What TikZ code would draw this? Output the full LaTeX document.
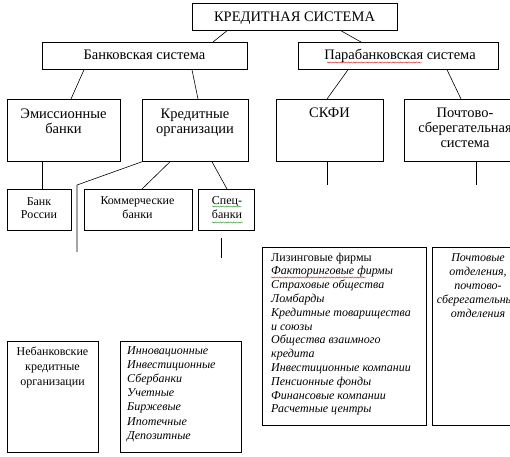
\documentclass[tikz,border=0pt]{standalone}
\usepackage{fontspec}
\setmainfont{Liberation Serif}
\usetikzlibrary{calc,decorations.pathmorphing}
\definecolor{spellred}{RGB}{220,40,40}
\definecolor{spellgreen}{RGB}{60,160,60}
\begin{document}
\begin{tikzpicture}[x=1pt,y=-1pt,
  box/.style={draw=black, line width=0.75pt, inner sep=0pt, anchor=north west},
  big/.style={font=\fontsize{14.5}{15.2}\selectfont, anchor=base, inner sep=0pt, align=center},
  sm/.style={font=\fontsize{12}{14.5}\selectfont, anchor=base, inner sep=0pt, align=center},
  lst/.style={font=\fontsize{12}{14}\selectfont\itshape, anchor=base west, inner sep=0pt, align=left},
  conn/.style={line width=0.6pt},
  squig/.style={decorate, decoration={snake, segment length=2.6pt, amplitude=0.6pt}, line width=0.45pt}]
\clip (0,0) rectangle (510,456);
\fill[white] (0,0) rectangle (510,456);
% boxes
\node[box, minimum width=205, minimum height=27] (top)  at (192,3) {};
\node[box, minimum width=205, minimum height=27] (bank) at (42,42) {};
\node[box, minimum width=200, minimum height=27] (para) at (298,42) {};
\node[box, minimum width=113, minimum height=62] (emis) at (7,99) {};
\node[box, minimum width=106, minimum height=62] (kred) at (142,99) {};
\node[box, minimum width=107, minimum height=62] (skfi) at (276,99) {};
\node[box, minimum width=126, minimum height=62] (post) at (404,99) {};
\node[box, minimum width=64, minimum height=41] (brus) at (7,189) {};
\node[box, minimum width=108, minimum height=41] (komm) at (84,189) {};
\node[box, minimum width=56, minimum height=41] (spec) at (198,189) {};
\node[box, minimum width=91, minimum height=111] (neb) at (7,341) {};
\node[box, minimum width=121, minimum height=111] (inn) at (120,341) {};
\node[box, minimum width=164, minimum height=178] (liz) at (262,247) {};
\node[box, minimum width=98, minimum height=178] (potd) at (432,247) {};
% texts (multi-line nodes are placed by the baseline of their last line)
\node[big] (ttop)  at (294.5,21) {КРЕДИТНАЯ СИСТЕМА};
\node[big] (tbank) at (144.5,59) {Банковская система};
\node[big] (tpara) at (400,59) {Парабанковская система};
\node[big] (temis) at (63.5,133.2) {Эмиссионные\\банки};
\node[big] (tkred) at (195,133.2) {Кредитные\\организации};
\node[big] (tskfi) at (329.5,117) {СКФИ};
\node[big] (tpost) at (465,147.4) {Почтово-\\сберегательная\\система};
\node[sm, font=\fontsize{12}{13.5}\selectfont] (tbrus) at (39,218.5) {Банк\\России};
\node[sm] (tkomm) at (137.5,218.5) {Коммерческие\\банки};
\node[sm] (tspec) at (227,218.5) {Спец-\\банки};
\node[sm, font=\fontsize{12}{15}\selectfont] (tneb) at (52.5,385) {Небанковские\\кредитные\\организации};
\node[lst, font=\fontsize{12}{14.2}\selectfont\itshape] (tinn) at (127,439.2) {Инновационные\\Инвестиционные\\Сбербанки\\Учетные\\Биржевые\\Ипотечные\\Депозитные};
\node[lst, font=\fontsize{12}{13.8}\selectfont\itshape] (tliz) at (271,412.8) {\upshape Лизинговые фирмы\\Факторинговые фирмы\\Страховые общества\\Ломбарды\\Кредитные товарищества\\и союзы\\Общества взаимного\\кредита\\Инвестиционные компании\\Пенсионные фонды\\Финансовые компании\\Расчетные центры};
\node[sm, font=\fontsize{12}{14}\selectfont\itshape] (tpotd) at (478,317) {Почтовые\\отделения,\\почтово-\\сберегательные\\отделения};
% spelling marks
\draw[squig, spellred] (327,62.5) -- (422,62.5);
\draw[squig, spellred] (271,277.5) -- (366,277.5);
\draw[squig, spellgreen] (212,206.5) -- (242,206.5);
\draw[squig, spellgreen] (212,222.5) -- (243,222.5);
% connectors
\draw[conn] ([xshift=35pt]top.south west) -- ([xshift=171pt]bank.north west);
\draw[conn] ([xshift=149pt]top.south west) -- ([xshift=63pt]para.north west);
\draw[conn] ([xshift=42pt]bank.south west) -- ([xshift=64pt]emis.north west);
\draw[conn] ([xshift=150pt]bank.south west) -- ([xshift=56pt]kred.north west);
\draw[conn] ([xshift=50pt]para.south west) -- ([xshift=51pt]skfi.north west);
\draw[conn] ([xshift=149pt]para.south west) -- ([xshift=57pt]post.north west);
\draw[conn] ([xshift=35pt]emis.south west) -- ([xshift=35pt]brus.north west);
\draw[conn] ([xshift=28pt]kred.south west) -- ([xshift=58pt]komm.north west);
\draw[conn] ([xshift=70pt]kred.south west) -- ([xshift=29pt]spec.north west);
\coordinate (kbend) at (77,185);
\coordinate (kend) at (77,252);
\draw[conn] (kred.south west) -- (kbend) -- (kend);
\coordinate (sa) at (221,238);
\coordinate (sb) at (221,258);
\draw[conn] (sa) -- (sb);
\coordinate (skend) at (327,185);
\draw[conn] ([xshift=51pt]skfi.south west) -- (skend);
\coordinate (poend) at (476,185);
\draw[conn] ([xshift=72pt]post.south west) -- (poend);
\end{tikzpicture}
\end{document}
